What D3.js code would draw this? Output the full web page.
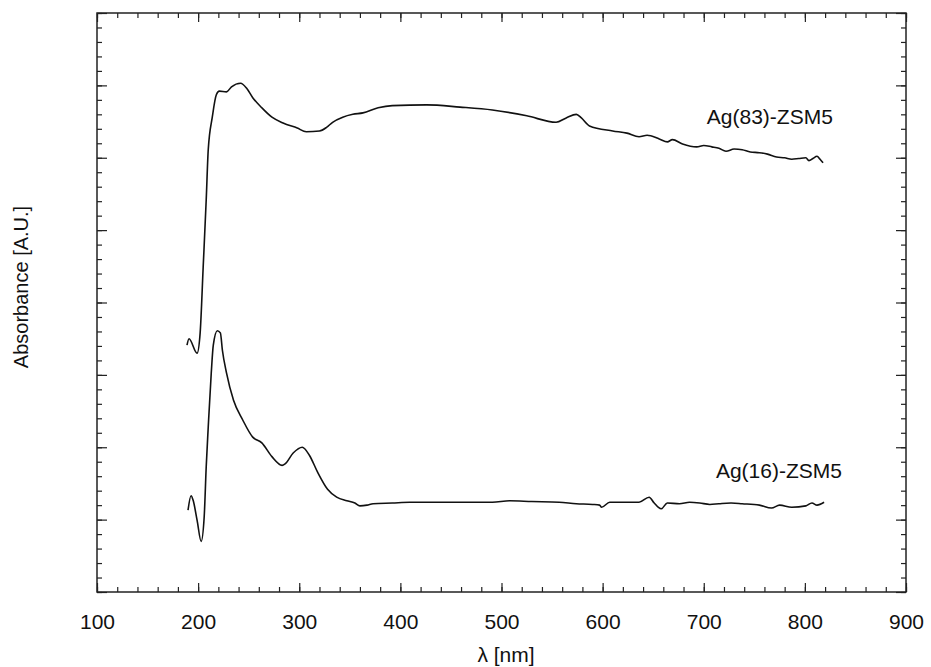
<!DOCTYPE html>
<html>
<head>
<meta charset="utf-8">
<script src="https://cdn.jsdelivr.net/npm/d3@7"></script>
<style>
  body { margin: 0; background: #fff; }
  text { font-family: "Liberation Sans", Arial, Helvetica, sans-serif; fill: #111; }
</style>
</head>
<body>
<div id="chart"></div>
<script>
// wavelength [nm] and absorbance [A.U.]
const ag83Wave = [189, 191, 199, 202, 205, 208, 210, 214, 218, 221, 228, 233, 242, 248, 254, 263, 273, 284, 298, 307, 320, 327, 333, 343, 353, 363, 378, 392, 426, 459, 491, 525, 554, 564, 574, 579, 587, 610, 624, 636, 644, 656, 664, 669, 679, 693, 700, 708, 715, 722, 730, 738, 746, 755, 763, 772, 780, 787, 794, 801, 804, 808, 812, 815, 818];
const ag83Abs  = [3.41, 3.50, 3.30, 3.58, 4.49, 5.42, 6.11, 6.56, 6.87, 6.92, 6.91, 6.98, 7.03, 6.96, 6.83, 6.69, 6.56, 6.48, 6.41, 6.36, 6.37, 6.42, 6.49, 6.56, 6.60, 6.62, 6.69, 6.72, 6.73, 6.70, 6.66, 6.58, 6.49, 6.55, 6.60, 6.55, 6.44, 6.37, 6.34, 6.29, 6.31, 6.26, 6.22, 6.25, 6.19, 6.15, 6.17, 6.15, 6.13, 6.09, 6.12, 6.11, 6.08, 6.07, 6.05, 6.01, 6.00, 5.98, 5.99, 6.00, 5.96, 5.99, 6.02, 5.98, 5.93];

const ag16Wave = [190, 193, 195, 199, 203, 206, 208, 210, 213, 215, 219, 222, 224, 228, 235, 244, 254, 263, 273, 283, 286, 294, 303, 310, 318, 328, 337, 347, 355, 360, 367, 373, 392, 409, 450, 491, 508, 530, 557, 574, 590, 597, 599, 607, 624, 636, 646, 651, 658, 664, 676, 686, 696, 706, 715, 727, 738, 755, 767, 775, 787, 801, 807, 812, 819];
const ag16Abs  = [1.13, 1.33, 1.27, 0.99, 0.70, 1.04, 1.73, 2.28, 3.03, 3.41, 3.61, 3.58, 3.34, 3.03, 2.65, 2.38, 2.14, 2.06, 1.87, 1.75, 1.77, 1.92, 2.00, 1.89, 1.66, 1.42, 1.31, 1.26, 1.23, 1.19, 1.20, 1.22, 1.23, 1.24, 1.24, 1.24, 1.26, 1.25, 1.24, 1.22, 1.21, 1.20, 1.17, 1.24, 1.24, 1.24, 1.31, 1.23, 1.15, 1.23, 1.22, 1.24, 1.23, 1.21, 1.22, 1.23, 1.22, 1.20, 1.16, 1.20, 1.17, 1.19, 1.23, 1.20, 1.24];

const seriesNames = ["Ag(83)-ZSM5", "Ag(16)-ZSM5"];
const labelAnchors = [[703, 6.47], [712, 1.57]]; // [nm, A.U.] of each label's left baseline
const xTickValues = [100, 200, 300, 400, 500, 600, 700, 800, 900];

const W = 931, H = 667;
const plotLeft = 97, plotRight = 906, plotTop = 13, plotBottom = 592;

const svg = d3.select("#chart")
  .append("svg")
  .attr("width", W)
  .attr("height", H);

const x = d3.scaleLinear().domain([100, 900]).range([plotLeft, plotRight]);
const y = d3.scaleLinear().domain([0, 8]).range([plotBottom, plotTop]);

const minorX = d3.range(100, 901, 20);
const minorY = d3.range(0, 8.001, 0.2);

const tickColor = "#222";

// bottom & top axes (ticks point inward)
const xBottom = svg.append("g")
  .attr("transform", `translate(0,${plotBottom})`)
  .call(d3.axisBottom(x).tickValues(minorX).tickSize(-5).tickFormat(""));
xBottom.append("g")
  .call(d3.axisBottom(x).tickValues(xTickValues).tickSize(-9).tickPadding(22).tickFormat(d3.format("d")));

const xTop = svg.append("g")
  .attr("transform", `translate(0,${plotTop})`)
  .call(d3.axisTop(x).tickValues(minorX).tickSize(-5).tickFormat(""));
xTop.append("g")
  .call(d3.axisTop(x).tickValues(xTickValues).tickSize(-9).tickFormat(""));

// left & right axes
const yLeft = svg.append("g")
  .attr("transform", `translate(${plotLeft},0)`)
  .call(d3.axisLeft(y).tickValues(minorY).tickSize(-5).tickFormat(""));
yLeft.append("g")
  .call(d3.axisLeft(y).ticks(8).tickSize(-10).tickFormat(""));

const yRight = svg.append("g")
  .attr("transform", `translate(${plotRight},0)`)
  .call(d3.axisRight(y).tickValues(minorY).tickSize(-5).tickFormat(""));
yRight.append("g")
  .call(d3.axisRight(y).ticks(8).tickSize(-10).tickFormat(""));

svg.selectAll(".domain").remove();
svg.selectAll(".tick line").attr("stroke", tickColor).attr("stroke-width", 1.2);
svg.selectAll(".tick text")
  .style("font-size", "21px")
  .attr("fill", "#111");

// frame
svg.append("rect")
  .attr("x", plotLeft)
  .attr("y", plotTop)
  .attr("width", plotRight - plotLeft)
  .attr("height", plotBottom - plotTop)
  .attr("fill", "none")
  .attr("stroke", tickColor)
  .attr("stroke-width", 1.5);

// spectra
const line = d3.line()
  .x(d => x(d[0]))
  .y(d => y(d[1]))
  .curve(d3.curveMonotoneX);

const series = [
  d3.zip(ag83Wave, ag83Abs),
  d3.zip(ag16Wave, ag16Abs)
];

svg.selectAll(".spectrum")
  .data(series)
  .enter()
  .append("path")
  .attr("class", "spectrum")
  .attr("d", line)
  .attr("fill", "none")
  .attr("stroke", "#111")
  .attr("stroke-width", 1.6)
  .attr("stroke-linejoin", "round");

svg.selectAll(".series-label")
  .data(seriesNames)
  .enter()
  .append("text")
  .attr("class", "series-label")
  .attr("x", (d, i) => x(labelAnchors[i][0]))
  .attr("y", (d, i) => y(labelAnchors[i][1]))
  .style("font-size", "21px")
  .text(d => d);

// axis titles
svg.append("text")
  .attr("x", 506)
  .attr("y", 662)
  .attr("text-anchor", "middle")
  .style("font-size", "21px")
  .text("λ [nm]");

svg.append("text")
  .attr("transform", "translate(28,287) rotate(-90)")
  .attr("text-anchor", "middle")
  .style("font-size", "20px")
  .text("Absorbance [A.U.]");
</script>
</body>
</html>
